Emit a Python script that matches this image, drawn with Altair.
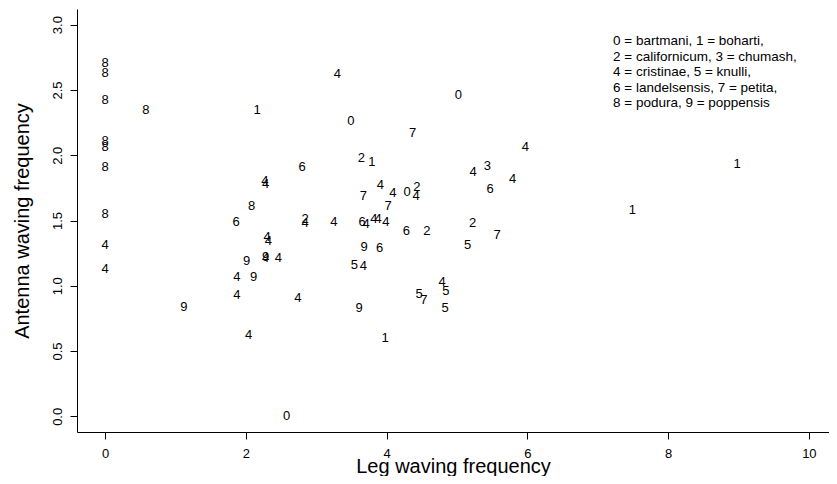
import altair as alt
import pandas as pd

# species code shown as the label of each point
species = (["0"] * 4 + ["1"] * 5 + ["2"] * 5 + ["3"] * 1 + ["4"] * 27 +
           ["5"] * 5 + ["6"] * 6 + ["7"] * 5 + ["8"] * 9 + ["9"] * 6)

leg = [
    5.02, 3.49, 4.29, 2.58,                      # 0
    2.16, 3.79, 3.98, 8.98, 7.49,                # 1
    3.64, 4.43, 2.84, 4.57, 5.22,                # 2
    5.43,                                        # 3
    0.0, 0.0, 2.27, 2.28, 2.30, 2.32, 2.28, 2.46, 1.87, 1.87, 2.74, 2.04,
    3.30, 5.23, 3.91, 4.09, 4.42, 2.84, 3.25, 3.71, 3.82, 3.88, 3.99, 3.67,
    4.79, 5.97, 5.79,                            # 4
    5.15, 3.54, 4.84, 4.46, 4.83,                # 5
    1.86, 2.80, 3.65, 4.28, 3.90, 5.47,          # 6
    4.37, 3.67, 4.02, 4.53, 5.57,                # 7
    0.0, 0.0, 0.0, 0.58, 0.0, 0.0, 0.0, 0.0, 2.08,  # 8
    2.01, 2.28, 2.11, 1.12, 3.68, 3.61,          # 9
]

antenna = [
    2.46, 2.26, 1.72, 0.00,                      # 0
    2.35, 1.95, 0.60, 1.93, 1.58,                # 1
    1.98, 1.76, 1.51, 1.42, 1.48,                # 2
    1.92,                                        # 3
    1.31, 1.13, 1.80, 1.78, 1.37, 1.34, 1.21, 1.21, 1.07, 0.93, 0.91, 0.62,
    2.62, 1.87, 1.77, 1.71, 1.69, 1.48, 1.49, 1.47, 1.51, 1.51, 1.49, 1.15,
    1.03, 2.06, 1.82,                            # 4
    1.31, 1.16, 0.96, 0.94, 0.83,                # 5
    1.49, 1.91, 1.49, 1.42, 1.29, 1.74,          # 6
    2.17, 1.69, 1.61, 0.89, 1.39,                # 7
    2.71, 2.63, 2.42, 2.35, 2.11, 2.06, 1.91, 1.55, 1.61,  # 8
    1.19, 1.22, 1.07, 0.84, 1.30, 0.83,          # 9
]

x_ticks = [0, 2, 4, 6, 8, 10]
y_ticks = [0.0, 0.5, 1.0, 1.5, 2.0, 2.5, 3.0]

legend_lines = [
    "0 = bartmani, 1 = boharti,",
    "2 = californicum, 3 = chumash,",
    "4 = cristinae, 5 = knulli,",
    "6 = landelsensis, 7 = petita,",
    "8 = podura, 9 = poppensis",
]

FONT = "Liberation Sans"

df = pd.DataFrame({"species": species, "leg": leg, "antenna": antenna})

points = alt.Chart(df).mark_text(
    font=FONT, fontSize=13, color="black", align="center", baseline="middle"
).encode(
    x=alt.X("leg:Q",
            scale=alt.Scale(domain=[-0.4, 10.286], nice=False, zero=False),
            axis=alt.Axis(values=x_ticks, format="d", title="Leg waving frequency",
                          titleY=40, titleBaseline="alphabetic", titleFontSize=20,
                          titleFontWeight="normal", labelPadding=8)),
    y=alt.Y("antenna:Q",
            scale=alt.Scale(domain=[-0.12, 3.12], nice=False, zero=False),
            axis=alt.Axis(values=y_ticks, format=".1f", title="Antenna waving frequency",
                          labelAngle=-90, labelAlign="center", labelBaseline="alphabetic",
                          labelPadding=9, titleX=-55, titleBaseline="middle",
                          titleAngle=-90, titleFontSize=20, titleFontWeight="normal")),
    text="species:N",
)

legend = alt.Chart(pd.DataFrame({"a": [0]})).mark_text(
    text=legend_lines, font=FONT, fontSize=13.5, lineHeight=15.5,
    align="left", baseline="middle", color="black"
).encode(x=alt.value(536), y=alt.value(32))

chart = alt.layer(points, legend).properties(
    width=752, height=423,
    autosize=alt.AutoSizeParams(type="none"),
    padding={"left": 69, "top": 1, "right": 0, "bottom": 44},
    background="white",
).configure_view(stroke=None).configure_axis(
    grid=False, domainColor="black", domainWidth=1, tickColor="black",
    tickWidth=1, tickSize=7, labelFont=FONT, labelFontSize=13,
    labelColor="black", titleFont=FONT, titleColor="black",
)

chart.save("out.html", embed_options={"renderer": "svg", "actions": False})
